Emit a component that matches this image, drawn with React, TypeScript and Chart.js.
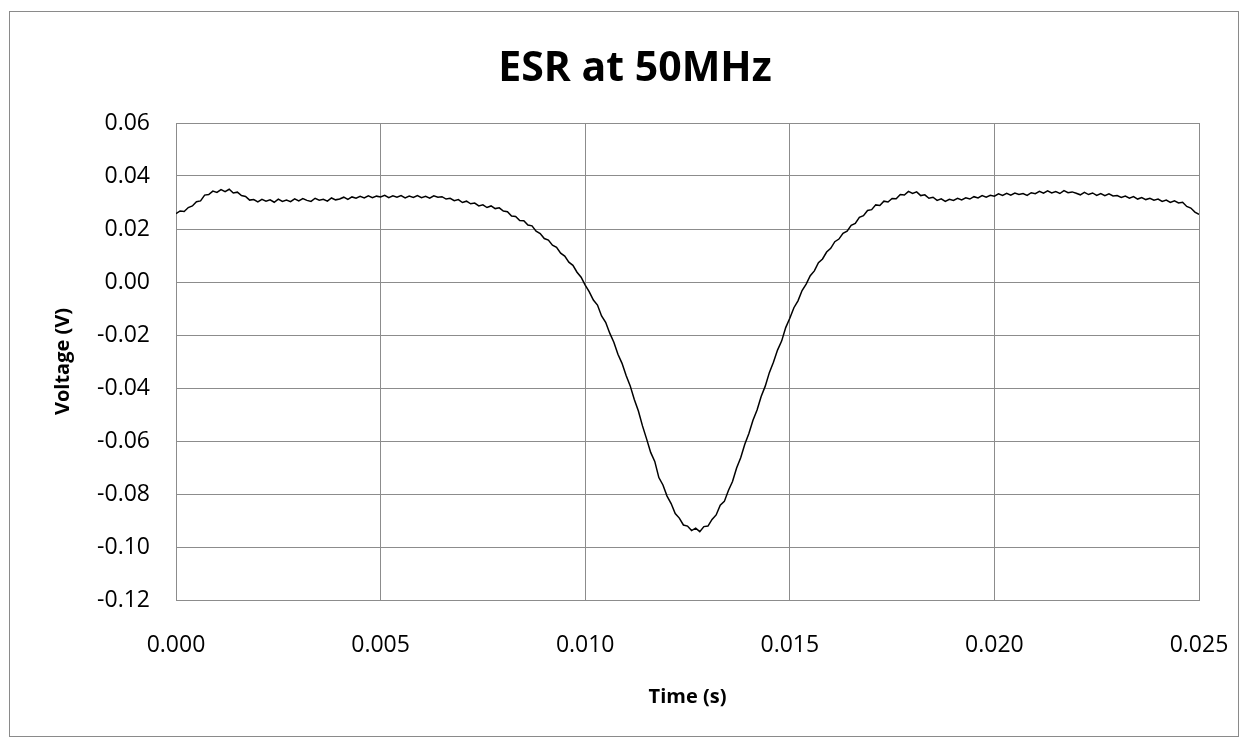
import { useEffect, useRef } from "react";
import { Chart, registerables } from "chart.js";

Chart.register(...registerables);

const CHART_TITLE = "ESR at 50MHz";
const X_AXIS_TITLE = "Time (s)";
const Y_AXIS_TITLE = "Voltage (V)";

// uniform sampling of the trace
const SAMPLE_INTERVAL_S = 0.0001;

const X_TICKS = [0, 0.005, 0.01, 0.015, 0.02, 0.025];
const Y_TICKS = [-0.12, -0.1, -0.08, -0.06, -0.04, -0.02, 0, 0.02, 0.04, 0.06];

// voltage, one value per 0.1 ms from 0 to 25 ms
const voltageStart = [
  0.0258, 0.0268, 0.0266, 0.0281, 0.0287, 0.0303, 0.0306, 0.0328, 0.033, 0.0343,
  0.0338, 0.0349, 0.0341, 0.035, 0.0336, 0.0339, 0.0326, 0.0323, 0.0309, 0.0311,
  0.0302, 0.0312, 0.0305, 0.031, 0.0301, 0.0313, 0.0304, 0.0309, 0.0303, 0.0314,
  0.0306, 0.0315, 0.0308, 0.0304, 0.0316, 0.0309, 0.0312, 0.0305, 0.0317, 0.031,
  0.0313, 0.032, 0.0312, 0.0321, 0.0316, 0.0323, 0.0317, 0.0325, 0.0318, 0.0324,
  0.0321, 0.0327, 0.0318, 0.0325, 0.032, 0.0326, 0.0317, 0.0324, 0.0319, 0.0326,
  0.0318, 0.0323, 0.0316, 0.0325, 0.032,
];
const voltageDip = [
  0.0322, 0.0313, 0.0316, 0.0307, 0.0311, 0.03, 0.0305, 0.0295, 0.0298, 0.0287,
  0.0291, 0.0281, 0.0287, 0.0277, 0.028,
  0.0268, 0.0265, 0.0249, 0.0247, 0.0232, 0.0231, 0.0215, 0.0212, 0.0192, 0.0183,
  0.0164, 0.0158, 0.0139, 0.0131, 0.0109, 0.0098, 0.0075, 0.0063, 0.0037, 0.0018,
  -0.0012, -0.0037, -0.0068, -0.0087, -0.0128, -0.0152, -0.0193, -0.0227, -0.0273, -0.0307,
  -0.0353, -0.0392, -0.0443, -0.0487, -0.0543, -0.0592, -0.0643, -0.0677, -0.0738, -0.0766,
  -0.0808, -0.0836, -0.0874, -0.0891, -0.0917, -0.0921, -0.0938, -0.0929, -0.0942, -0.0923,
  -0.0921, -0.0896, -0.0879, -0.0842,
  -0.0828, -0.0787, -0.0753, -0.0702, -0.0663, -0.0612, -0.0572, -0.0522, -0.0483, -0.0432,
  -0.0393, -0.0342, -0.0303, -0.0257, -0.0223, -0.0172, -0.0137, -0.0097, -0.0071, -0.0032,
  -0.0008, 0.0024, 0.0042, 0.0073, 0.0087, 0.0113,
];
const voltageEnd = [
  0.0127, 0.0152, 0.0162, 0.0184, 0.0192, 0.0214, 0.0221, 0.0244, 0.025, 0.027,
  0.0273, 0.0291, 0.0289, 0.0305, 0.0302, 0.0315, 0.0314, 0.033, 0.0328, 0.0342,
  0.0334, 0.034, 0.0326, 0.0329, 0.0316, 0.032, 0.0308, 0.0314, 0.0304, 0.0312,
  0.0308, 0.0316, 0.031, 0.0318, 0.0313, 0.0322, 0.0317, 0.0326, 0.032, 0.0327,
  0.0324, 0.0333, 0.0327, 0.0335, 0.0328, 0.0336, 0.033, 0.0334, 0.0327, 0.0337,
  0.0333, 0.0342, 0.0335, 0.0344, 0.0336, 0.0341, 0.0334, 0.0345, 0.0337, 0.034,
  0.0335, 0.0329, 0.0338, 0.033, 0.0336, 0.0327, 0.0334, 0.0326, 0.0333, 0.0325,
  0.0326, 0.0319, 0.0324, 0.0316, 0.0322, 0.0313, 0.0319, 0.0311, 0.0316, 0.0309,
  0.0313, 0.0304, 0.0309, 0.03, 0.0306, 0.0298, 0.0301, 0.0285, 0.0279, 0.0264,
  0.0255,
];

const voltageV = [...voltageStart, ...voltageDip, ...voltageEnd];
const timeS = voltageV.map((_, i) => i * SAMPLE_INTERVAL_S);

const FONT = '"Open Sans", "DejaVu Sans", sans-serif';
const GRID = "#8c8c8c";
const CANVAS_W = 1240;
const CANVAS_H = 732;

const frameAndTitle = {
  id: "frameAndTitle",
  beforeDraw(chart: any) {
    const ctx = chart.ctx;
    ctx.save();
    ctx.fillStyle = "#ffffff";
    ctx.fillRect(0, 0, chart.width, chart.height);
    ctx.strokeStyle = "#8a8a8a";
    ctx.lineWidth = 1;
    ctx.strokeRect(1.5, 3.5, 1229, 725);
    ctx.restore();
  },
  afterDraw(chart: any) {
    const ctx = chart.ctx;
    ctx.save();
    ctx.font = `bold 41px ${FONT}`;
    ctx.fillStyle = "#000000";
    ctx.textAlign = "center";
    ctx.textBaseline = "middle";
    ctx.fillText(CHART_TITLE, 627, 61);
    ctx.restore();
  },
};

export default function App() {
  const canvasRef = useRef<HTMLCanvasElement | null>(null);

  useEffect(() => {
    if (!canvasRef.current) return;
    const points = timeS.map((t, i) => ({ x: t, y: voltageV[i] }));
    const chart = new Chart(canvasRef.current, {
      type: "line",
      data: {
        datasets: [
          {
            label: "Voltage",
            data: points,
            borderColor: "#000000",
            borderWidth: 1.5,
            pointRadius: 0,
            tension: 0,
            fill: false,
          },
        ],
      },
      options: {
        animation: false,
        responsive: false,
        devicePixelRatio: 1,
        layout: { padding: { top: 115, left: 0, right: 49, bottom: 0 } },
        plugins: {
          legend: { display: false },
          tooltip: { enabled: false },
          title: { display: false },
        },
        scales: {
          x: {
            type: "linear",
            min: X_TICKS[0],
            max: X_TICKS[X_TICKS.length - 1],
            afterBuildTicks: (scale: any) => {
              scale.ticks = X_TICKS.map((v) => ({ value: v }));
            },
            afterFit: (scale: any) => {
              scale.height = 140;
              scale.paddingLeft = 0;
              scale.paddingRight = 0;
            },
            grid: { color: GRID, lineWidth: 1, drawTicks: false },
            border: { display: true, color: GRID, width: 1 },
            ticks: {
              padding: 32,
              color: "#000000",
              font: { family: FONT, size: 23 },
              callback: (v: any) => Number(v).toFixed(3),
              maxRotation: 0,
              autoSkip: false,
            },
            title: {
              display: true,
              text: X_AXIS_TITLE,
              color: "#000000",
              font: { family: FONT, size: 20, weight: "bold" },
              padding: { top: 0, bottom: 31 },
            },
          },
          y: {
            type: "linear",
            min: Y_TICKS[0],
            max: Y_TICKS[Y_TICKS.length - 1],
            afterBuildTicks: (scale: any) => {
              scale.ticks = Y_TICKS.map((v) => ({ value: v }));
            },
            afterFit: (scale: any) => {
              scale.width = 168;
              scale.paddingTop = 0;
              scale.paddingBottom = 0;
            },
            grid: { color: GRID, lineWidth: 1, drawTicks: false },
            border: { display: true, color: GRID, width: 1 },
            ticks: {
              padding: 26,
              color: "#000000",
              font: { family: FONT, size: 23 },
              callback: (v: any) => Number(v).toFixed(2),
              autoSkip: false,
            },
            title: {
              display: true,
              text: Y_AXIS_TITLE,
              color: "#000000",
              font: { family: FONT, size: 20, weight: "bold" },
              padding: { top: 43, bottom: 0 },
            },
          },
        },
      },
      plugins: [frameAndTitle],
    });
    return () => chart.destroy();
  }, []);

  return (
    <div style={{ width: CANVAS_W, height: CANVAS_H }}>
      <canvas
        ref={canvasRef}
        width={CANVAS_W}
        height={CANVAS_H}
        style={{ display: "block", width: CANVAS_W, height: CANVAS_H }}
      />
    </div>
  );
}
